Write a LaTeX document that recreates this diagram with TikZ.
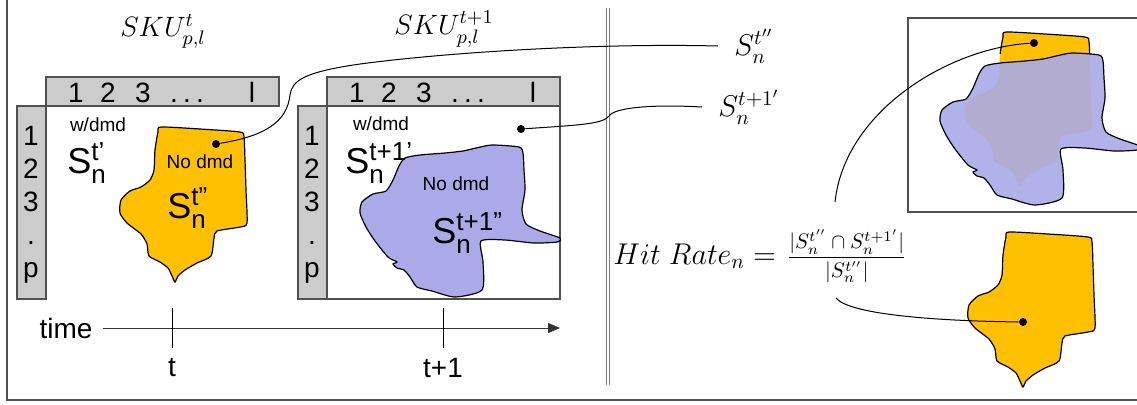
\RequirePackage{fix-cm}
\documentclass[tikz,border=0pt]{standalone}
\usepackage{amsmath}
\usepackage{fontspec}
\setmainfont{Liberation Sans}
\usetikzlibrary{positioning, arrows.meta}
\definecolor{blkorange}{RGB}{255,192,0}
\definecolor{blkblue}{RGB}{170,170,232}
\definecolor{hdrgray}{RGB}{204,204,204}
\definecolor{lingray}{RGB}{80,80,80}
\newcommand{\setlab}[1]{{\fontsize{18}{18}\selectfont S}{\fontsize{13}{13}\selectfont\rlap{\raisebox{6.5pt}{#1}}\raisebox{-5pt}{n}}}
\tikzset{
    hdrbox/.style={draw=lingray, fill=hdrgray, line width=0.6pt},
    bodybox/.style={draw=lingray, line width=0.6pt},
    hdrnum/.style={font=\fontsize{14}{14}\selectfont, inner sep=0pt, text height=10pt, text depth=0pt},
    smalllbl/.style={font=\fontsize{9.5}{10}\selectfont, inner sep=0pt},
    axislbl/.style={font=\fontsize{14}{14}\selectfont, inner sep=0pt},
    setnode/.style={anchor=base west, inner sep=0pt},
    mathlbl/.style={font=\fontsize{14}{16}\selectfont, inner sep=1pt},
    dotnode/.style={circle, fill=black, inner sep=0pt, minimum size=4pt},
    lnk/.style={line width=0.5pt},
    arr/.style={-{Triangle[length=6pt, width=5pt]}, line width=0.5pt, color=black!80},
    framelin/.style={draw=lingray, line width=0.8pt},
    divider/.style={draw=gray, double=white, double distance=1.4pt, line width=0.5pt},
    % blob outlines
    orangeblob/.pic={\path[#1] plot[smooth cycle, tension=0.4] coordinates{
        (161,127) (200,129) (240,132) (244,137) (245,160) (246,190) (247,223)
        (240,227) (217,231) (214,238) (211,256) (197,263) (185,270) (178,276)
        (175,282) (172,276) (168,268) (160,262) (149,256) (147,244) (141,234)
        (127,223) (120,213) (121,200) (130,191) (141,187) (150,180) (154,170)
        (155,150) (158,132)};},
    blueblob/.pic={\path[#1] plot[smooth cycle, tension=0.4] coordinates{
        (405,158) (420,155) (445,153) (463,151) (476,148) (492,145) (519,147)
        (523,153) (524,170) (525,190) (522,210) (526,224) (540,231) (560,238)
        (557,242) (534,243) (505,240) (481,241) (483,262) (482,290) (455,297)
        (432,291) (417,287) (410,277) (404,270) (397,268) (393,264) (397,262)
        (388,257) (375,241) (366,227) (360,213) (362,202) (373,194) (386,191)
        (393,180) (399,166)};}
}

\begin{document}
\begin{tikzpicture}[x=0.5pt, y=-0.5pt]
    \useasboundingbox (0,0) rectangle (1137,404);
    \clip (0,0) rectangle (1137,404);
    \draw[framelin] (7,-10) -- (7,400) -- (1150,400);
    \draw[divider] (608,8) -- (608,385);

    % the two tables
    \node[mathlbl] (sku1) at (163,31) {$SKU_{p,l}^{t}$};
    \node[mathlbl] (sku2) at (444,29) {$SKU_{p,l}^{t+1}$};
    \draw[bodybox] (327,106) rectangle (560,299);
    \foreach \tx in {0,281}{
        \draw[hdrbox] (46+\tx,77) rectangle (279+\tx,106);
        \draw[hdrbox] (17+\tx,106) rectangle (46+\tx,299);
        \foreach \lbl/\xx in {1/76, 2/108, 3/143, ./174, ./187, ./200, l/252}
            \node[hdrnum] (hd\tx\xx) at (\xx+\tx,92) {\lbl};
        \foreach \lbl/\yy in {1/135, 2/168, 3/201, ./234, p/267}
            \node[hdrnum] (col\tx\yy) at (31+\tx,\yy) {\lbl};
    }

    % sets
    \pic at (0,0) {orangeblob={draw=black, fill=blkorange, line width=0.6pt}};
    \pic at (0,0) {blueblob={draw=black, fill=blkblue, line width=0.6pt}};
    \node[smalllbl] (wd1) at (98,125) {w/dmd};
    \node[setnode] (st1) at (67,173) {\setlab{t’}};
    \node[smalllbl] (nd1) at (200,162) {No dmd};
    \node[setnode] (stt1) at (167,218) {\setlab{t”}};
    \node[smalllbl] (wd2) at (381,124) {w/dmd};
    \node[setnode] (st2) at (345,173) {\setlab{t+1’}};
    \node[smalllbl] (nd2) at (456,184) {No dmd};
    \node[setnode] (stt2) at (432,243) {\setlab{t+1”}};

    % time axis
    \node[axislbl] (time) at (66,328) {time};
    \coordinate (tend) at (560,328);
    \draw[arr, shorten <=5pt] (time.east) -- (tend);
    \coordinate (tk1) at (172,308);
    \coordinate (tk2) at (443,308);
    \draw[lnk] (tk1) -- ++(0,40);
    \draw[lnk] (tk2) -- ++(0,40);
    \node[axislbl] (tl1) at (172,368) {t};
    \node[axislbl] (tl2) at (443,368) {t+1};

    % overlap box
    \draw[bodybox] (908,18) rectangle (1160,212);
    \pic at (845,-95) {orangeblob={fill=blkorange}};
    \begin{scope}
        \clip (990,20) rectangle (1100,53);
        \pic at (845,-95) {orangeblob={draw=black, line width=0.6pt}};
    \end{scope}
    \pic at (580,-92) {blueblob={draw=black, fill=blkblue, fill opacity=0.9, line width=0.6pt}};
    \pic at (848,105) {orangeblob={draw=black, fill=blkorange, line width=0.6pt}};

    % labels and formula
    \node[mathlbl, font=\fontsize{15}{17}\selectfont] (lab1) at (754,46) {$S_n^{t''}$};
    \node[mathlbl, font=\fontsize{15}{17}\selectfont] (lab2) at (749,107) {$S_n^{t+1'}$};
    \node[font=\fontsize{15}{18}\selectfont, anchor=west, inner sep=0pt] (hit) at (613,256)
        {$Hit\ Rate_n =$};
    \node[font=\fontsize{10.5}{12}\selectfont, right=5pt of hit, inner sep=0pt] (frac)
        {$\dfrac{|S_n^{t''}\cap S_n^{t+1'}|}{|S_n^{t''}|}$};
    \coordinate (c3) at (835,202);
    \coordinate (c4) at (836,298);

    % dots and leaders
    \node[dotnode] (d1) at (216,144) {};
    \node[dotnode] (d2) at (521,129) {};
    \node[dotnode] (d3) at (1034,43) {};
    \node[dotnode] (d4) at (1023,322) {};
    \draw[lnk] (d1) .. controls (265,136) and (287,122) .. (290,95)
        .. controls (292,80) and (305,72) .. (360,64)
        .. controls (450,52) and (600,43) .. ([xshift=-7pt]lab1.west);
    \draw[lnk] (d2) .. controls (580,125) and (603,124) .. (609,116)
        .. controls (614,108) and (650,104) .. ([xshift=-7pt]lab2.west);
    \draw[lnk] (d3) .. controls (950,48) and (845,110) .. (c3);
    \draw[lnk] (d4) .. controls (940,321) and (850,315) .. (c4);
\end{tikzpicture}
\end{document}
